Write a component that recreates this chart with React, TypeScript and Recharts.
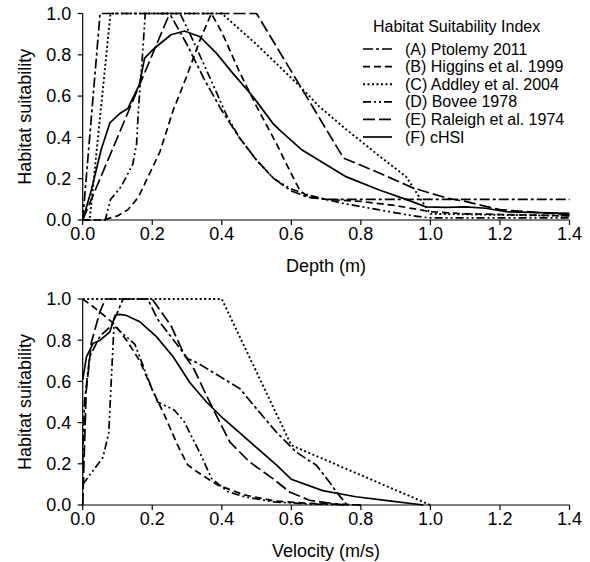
import React from 'react';
import { LineChart, Line, XAxis, YAxis } from 'recharts';

// ---- axis ticks ----
const xTicks = [0, 0.2, 0.4, 0.6, 0.8, 1.0, 1.2, 1.4];
const yTicks = [0, 0.2, 0.4, 0.6, 0.8, 1.0];

// ---- series names ----
const seriesNames = [
  '(A) Ptolemy 2011',
  '(B) Higgins et al. 1999',
  '(C) Addley et al. 2004',
  '(D) Bovee 1978',
  '(E) Raleigh et al. 1974',
  '(F) cHSI',
];

// ---- Depth (m) ----
const depthA_x = [0, 0.05, 0.25, 0.3, 0.35, 0.4, 0.45, 0.5, 0.55, 0.6, 0.65, 0.7, 1.4];
const depthA_y = [0, 1, 1, 0.85, 0.68, 0.53, 0.4, 0.29, 0.2, 0.14, 0.11, 0.1, 0.1];

const depthB_x = [0, 0.06, 0.1, 0.13, 0.16, 0.222, 0.26, 0.3, 0.337, 0.37, 0.4, 0.45, 0.5, 0.557, 0.595, 0.624, 0.65, 0.7, 0.8, 0.9, 1.0, 1.1, 1.4];
const depthB_y = [0, 0, 0.02, 0.05, 0.11, 0.33, 0.53, 0.7, 0.87, 1, 0.91, 0.72, 0.55, 0.37, 0.24, 0.145, 0.11, 0.1, 0.09, 0.07, 0.04, 0.03, 0.02];

const depthC_x = [0, 0.02, 0.08, 0.4, 0.5, 0.62, 0.68, 0.757, 0.853, 0.93, 0.98, 1.0, 1.4];
const depthC_y = [0, 0, 1, 1, 0.85, 0.655, 0.55, 0.44, 0.31, 0.21, 0.08, 0.03, 0.02];

const depthD_x = [0, 0.065, 0.08, 0.11, 0.144, 0.155, 0.16, 0.172, 0.18, 0.28, 0.32, 0.375, 0.413, 0.45, 0.5, 0.55, 0.6, 0.65, 0.75, 0.85, 0.95, 1.0, 1.4];
const depthD_y = [0, 0, 0.1, 0.16, 0.27, 0.37, 0.53, 0.8, 1, 1, 0.86, 0.655, 0.51, 0.4, 0.29, 0.2, 0.15, 0.12, 0.08, 0.05, 0.02, 0.01, 0.01];

const depthE_x = [0, 0.25, 0.5, 0.75, 0.8, 0.85, 0.95, 1.05, 1.1, 1.2, 1.4];
const depthE_y = [0, 1, 1, 0.3, 0.265, 0.23, 0.155, 0.105, 0.09, 0.05, 0.025];

const depthF_x = [0, 0.025, 0.053, 0.078, 0.107, 0.13, 0.163, 0.178, 0.207, 0.254, 0.293, 0.337, 0.385, 0.432, 0.49, 0.547, 0.566, 0.63, 0.757, 0.853, 0.93, 0.987, 1.045, 1.1, 1.16, 1.217, 1.4];
const depthF_y = [0, 0.145, 0.34, 0.47, 0.516, 0.54, 0.655, 0.784, 0.833, 0.897, 0.915, 0.888, 0.807, 0.71, 0.597, 0.468, 0.436, 0.34, 0.21, 0.145, 0.1, 0.064, 0.061, 0.064, 0.057, 0.04, 0.032];

// ---- Velocity (m/s) ----
const velA_x = [0, 0.005, 0.02, 0.05, 0.082, 0.1, 0.116, 0.187, 0.216, 0.273, 0.302, 0.33, 0.452, 0.5, 0.557, 0.614, 0.672, 0.71, 0.73, 0.76];
const velA_y = [0.2, 0.5, 0.72, 0.82, 0.87, 0.935, 1, 1, 0.9, 0.775, 0.71, 0.69, 0.565, 0.467, 0.354, 0.257, 0.193, 0.11, 0.063, 0];

const velB_x = [0, 0.04, 0.09, 0.126, 0.164, 0.2, 0.235, 0.273, 0.302, 0.33, 0.388, 0.465, 0.55, 0.65, 0.8];
const velB_y = [1, 0.95, 0.88, 0.8, 0.7, 0.56, 0.437, 0.29, 0.194, 0.16, 0.097, 0.049, 0.02, 0.008, 0];

const velC_x = [0, 0.4, 0.6, 1.0];
const velC_y = [1, 1, 0.29, 0];

const velD_x = [0, 0.058, 0.075, 0.082, 0.09, 0.15, 0.2, 0.216, 0.264, 0.292, 0.34, 0.37, 0.417, 0.465, 0.55, 0.65, 0.8];
const velD_y = [0.1, 0.23, 0.35, 0.6, 0.87, 0.78, 0.56, 0.5, 0.46, 0.404, 0.243, 0.13, 0.065, 0.04, 0.015, 0.005, 0];

const velE_x = [0, 0.01, 0.025, 0.049, 0.065, 0.2, 0.254, 0.293, 0.32, 0.365, 0.423, 0.48, 0.547, 0.595, 0.652, 0.75];
const velE_y = [0, 0.55, 0.79, 0.935, 1, 1, 0.87, 0.727, 0.66, 0.5, 0.306, 0.209, 0.128, 0.063, 0.023, 0];

const velF_x = [0, 0.011, 0.03, 0.05, 0.078, 0.093, 0.107, 0.126, 0.164, 0.212, 0.26, 0.308, 0.356, 0.404, 0.46, 0.557, 0.6, 0.69, 0.786, 0.882, 0.98];
const velF_y = [0.607, 0.72, 0.785, 0.8, 0.84, 0.92, 0.925, 0.92, 0.89, 0.817, 0.72, 0.595, 0.5, 0.42, 0.338, 0.195, 0.125, 0.07, 0.04, 0.02, 0];

const zip = (xs: number[], ys: number[]) => xs.map((x, i) => ({ x, y: ys[i] }));

const dashes = ['10 3 3 3', '7 4', '2 2.5', '8 3 2 3 2 3', '12 4', undefined];

const depthSeries = [
  zip(depthA_x, depthA_y),
  zip(depthB_x, depthB_y),
  zip(depthC_x, depthC_y),
  zip(depthD_x, depthD_y),
  zip(depthE_x, depthE_y),
  zip(depthF_x, depthF_y),
];
const velSeries = [
  zip(velA_x, velA_y),
  zip(velB_x, velB_y),
  zip(velC_x, velC_y),
  zip(velD_x, velD_y),
  zip(velE_x, velE_y),
  zip(velF_x, velF_y),
];

const FONT = '"Liberation Sans", Arial, Helvetica, sans-serif';
const tickStyle = { fontSize: 18, fill: '#000', fontFamily: FONT };

function Panel({ series, xLabel, height, marginTop, xAxisHeight, labelOffset }: any) {
  return (
    <LineChart
      width={590}
      height={height}
      margin={{ top: marginTop, right: 20.5, bottom: 0, left: 0 }}
      style={{ fontFamily: FONT }}
    >
      <XAxis
        dataKey="x"
        type="number"
        domain={[0, 1.4]}
        ticks={xTicks}
        allowDuplicatedCategory={false}
        tickFormatter={(v: number) => v.toFixed(1)}
        height={xAxisHeight}
        tick={tickStyle}
        tickSize={5}
        tickMargin={2}
        axisLine={{ stroke: '#000', strokeWidth: 1.2 }}
        tickLine={{ stroke: '#000', strokeWidth: 1.2 }}
        interval={0}
        label={{
          value: xLabel,
          position: 'insideBottom',
          offset: labelOffset,
          style: { fontSize: 18, fill: '#000', fontFamily: FONT, textAnchor: 'middle' },
        }}
      />
      <YAxis
        type="number"
        domain={[0, 1]}
        ticks={yTicks}
        tickFormatter={(v: number) => v.toFixed(1)}
        width={82.7}
        tick={tickStyle}
        tickSize={5}
        tickMargin={6.5}
        axisLine={{ stroke: '#000', strokeWidth: 1.2 }}
        tickLine={{ stroke: '#000', strokeWidth: 1.2 }}
        interval={0}
        label={{
          value: 'Habitat suitability',
          angle: -90,
          position: 'insideLeft',
          offset: 25,
          style: { fontSize: 18, fill: '#000', fontFamily: FONT, textAnchor: 'middle' },
        }}
      />
      {series.map((d: any, i: number) => (
        <Line
          key={i}
          data={d}
          dataKey="y"
          type="linear"
          stroke="#000"
          strokeWidth={i === 2 ? 1.9 : 1.7}
          strokeDasharray={dashes[i]}
          dot={false}
          activeDot={false}
          isAnimationActive={false}
          name={seriesNames[i]}
        />
      ))}
    </LineChart>
  );
}

function LegendOverlay() {
  const rowBase = 54.5;
  const step = 17.6;
  return (
    <svg
      width={590}
      height={160}
      style={{ position: 'absolute', left: 0, top: 0, pointerEvents: 'none' }}
    >
      <text x={373} y={31.5} fontSize={16} fontFamily={FONT} fill="#000">
        Habitat Suitability Index
      </text>
      {seriesNames.map((n, i) => {
        const by = rowBase + i * step;
        return (
          <g key={n}>
            <line
              x1={363}
              x2={392}
              y1={by - 5.5}
              y2={by - 5.5}
              stroke="#000"
              strokeWidth={i === 2 ? 1.9 : 1.7}
              strokeDasharray={dashes[i]}
            />
            <text x={405} y={by} fontSize={16} fontFamily={FONT} fill="#000">
              {n}
            </text>
          </g>
        );
      })}
    </svg>
  );
}

export default function App() {
  return (
    <div style={{ position: 'absolute', left: 0, top: 0, width: 590, height: 562, background: '#fff' }}>
      <div style={{ position: 'absolute', left: 0, top: 0 }}>
        <Panel series={depthSeries} xLabel="Depth (m)" height={280} marginTop={13.5} xAxisHeight={60} labelOffset={8.5} />
      </div>
      <div style={{ position: 'absolute', left: 0, top: 280 }}>
        <Panel series={velSeries} xLabel="Velocity (m/s)" height={282} marginTop={19} xAxisHeight={57} labelOffset={5.5} />
      </div>
      <LegendOverlay />
    </div>
  );
}
